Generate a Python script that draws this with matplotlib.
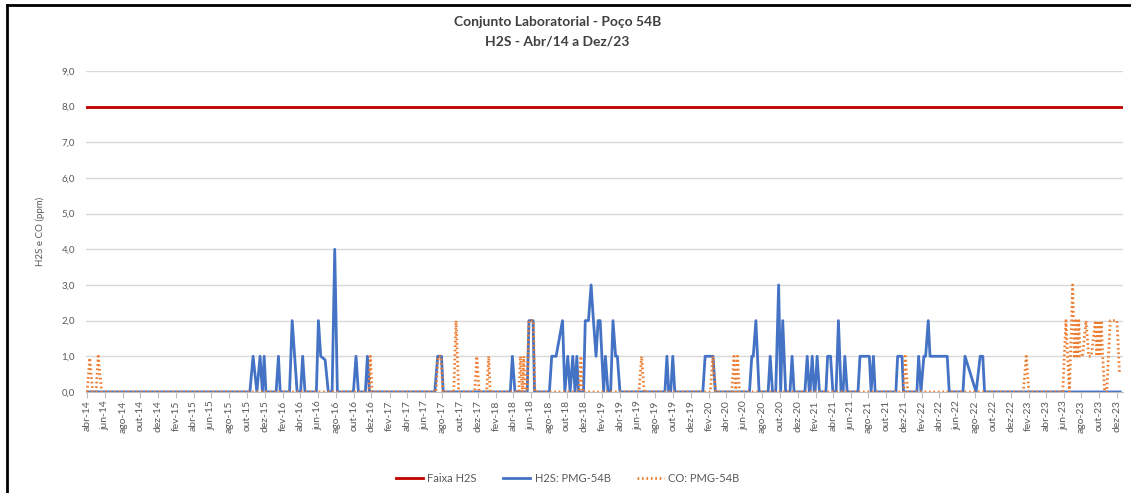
import pandas as pd
import matplotlib
matplotlib.use('Agg')
import matplotlib.pyplot as plt
import matplotlib.dates as mdates
from matplotlib.lines import Line2D

plt.rcParams['font.family'] = ['Lato', 'DejaVu Sans']

LIMITE_H2S = 8.0

h2s_datas = [
    '2014-04-01', '2015-10-11', '2015-10-22', '2015-11-04', '2015-11-15', '2015-11-23',
    '2015-11-29', '2015-12-05', '2016-01-09', '2016-01-17', '2016-01-23', '2016-02-24',
    '2016-03-04', '2016-03-21', '2016-04-02', '2016-04-09', '2016-04-17', '2016-05-26',
    '2016-06-02', '2016-06-10', '2016-06-25', '2016-07-06', '2016-07-19', '2016-07-28',
    '2016-08-06', '2016-09-30', '2016-10-09', '2016-10-17', '2016-11-10', '2016-11-17',
    '2016-11-24', '2017-07-06', '2017-07-16', '2017-07-29', '2017-08-04', '2018-03-22',
    '2018-03-29', '2018-04-07', '2018-05-19', '2018-05-25', '2018-06-08', '2018-06-13',
    '2018-08-03', '2018-08-11', '2018-08-26', '2018-09-17', '2018-09-25', '2018-10-05',
    '2018-10-13', '2018-10-22', '2018-10-30', '2018-11-05', '2018-11-11', '2018-11-28',
    '2018-12-04', '2018-12-15', '2018-12-24', '2019-01-01', '2019-01-10', '2019-01-17',
    '2019-01-24', '2019-02-05', '2019-02-11', '2019-02-20', '2019-03-01', '2019-03-09',
    '2019-03-18', '2019-03-24', '2019-04-02', '2019-09-03', '2019-09-10', '2019-09-16',
    '2019-09-23', '2019-09-30', '2019-10-07', '2020-01-11', '2020-01-19', '2020-02-15',
    '2020-02-23', '2020-06-19', '2020-06-27', '2020-07-02', '2020-07-11', '2020-07-22',
    '2020-08-22', '2020-08-29', '2020-09-06', '2020-09-17', '2020-09-27', '2020-10-04',
    '2020-10-11', '2020-10-21', '2020-11-05', '2020-11-12', '2020-11-19', '2020-12-26',
    '2021-01-03', '2021-01-10', '2021-01-13', '2021-01-20', '2021-01-27', '2021-01-30',
    '2021-02-06', '2021-02-14', '2021-03-08', '2021-03-14', '2021-03-24', '2021-04-01',
    '2021-04-12', '2021-04-20', '2021-04-29', '2021-05-06', '2021-05-12', '2021-05-20',
    '2021-06-26', '2021-07-03', '2021-08-04', '2021-08-10', '2021-08-18', '2021-08-24',
    '2021-11-03', '2021-11-09', '2021-11-24', '2021-11-29', '2022-01-14', '2022-01-20',
    '2022-01-28', '2022-02-07', '2022-02-13', '2022-02-22', '2022-02-28', '2022-04-28',
    '2022-05-05', '2022-06-21', '2022-06-28', '2022-08-05', '2022-08-19', '2022-08-28',
    '2022-09-03', '2023-12-12',
]
h2s_valores = [
    0, 0, 1, 0, 1, 0,
    1, 0, 0, 1, 0, 0,
    2, 0, 0, 1, 0, 0,
    2, 1, 0.9, 0, 0, 4,
    0, 0, 1, 0, 0, 1,
    0, 0, 1, 1, 0, 0,
    1, 0, 0, 2, 2, 0,
    0, 1, 1, 2, 0, 1,
    0, 1, 0, 1, 0, 0,
    2, 2, 3, 2, 1, 2,
    2, 0, 1, 0, 0, 2,
    1, 1, 0, 0, 1, 0,
    0, 1, 0, 0, 1, 1,
    0, 0, 1, 1, 2, 0,
    0, 1, 0, 0, 3, 0,
    2, 0, 0, 1, 0, 0,
    1, 0, 0, 1, 0, 0,
    1, 0, 0, 1, 1, 0,
    0, 2, 0, 0, 1, 0,
    0, 1, 1, 0, 1, 0,
    0, 1, 1, 0, 0, 1,
    0, 1, 1, 2, 1, 1,
    0, 0, 1, 0, 1, 1,
    0, 0,
]

co_datas = [
    '2014-04-01', '2014-04-10', '2014-04-20', '2014-05-02', '2014-05-09', '2014-05-21',
    '2016-11-22', '2016-11-27', '2016-12-03', '2017-07-10', '2017-07-17', '2017-07-27',
    '2017-08-03', '2017-09-09', '2017-09-17', '2017-09-26', '2017-11-20', '2017-11-27',
    '2017-12-05', '2017-12-31', '2018-01-07', '2018-01-12', '2018-04-20', '2018-04-26',
    '2018-05-02', '2018-05-07', '2018-05-12', '2018-05-19', '2018-05-24', '2018-06-09',
    '2018-06-14', '2018-11-13', '2018-11-19', '2018-11-24', '2019-06-06', '2019-06-15',
    '2019-06-24', '2020-02-06', '2020-02-14', '2020-02-24', '2020-04-19', '2020-04-27',
    '2020-05-03', '2020-05-09', '2020-05-16', '2021-11-30', '2021-12-05', '2021-12-14',
    '2023-01-14', '2023-01-24', '2023-02-02', '2023-05-29', '2023-06-09', '2023-06-21',
    '2023-07-02', '2023-07-08', '2023-07-13', '2023-07-18', '2023-07-23', '2023-07-28',
    '2023-08-05', '2023-08-17', '2023-08-26', '2023-09-04', '2023-09-18', '2023-09-23',
    '2023-09-28', '2023-10-03', '2023-10-08', '2023-10-13', '2023-10-20', '2023-10-27',
    '2023-11-08', '2023-12-01', '2023-12-10',
]
co_valores = [
    0, 0.95, 0, 0, 1, 0,
    0, 1, 0, 0, 1, 1,
    0, 0, 2, 0, 0, 1,
    0, 0, 1, 0, 0, 1,
    0, 1, 0, 0, 2, 2,
    0, 0, 1, 0, 0, 1,
    0, 0, 1, 0, 0, 1,
    0, 1, 0, 0, 1, 0,
    0, 1, 0, 0, 2, 0,
    3, 1, 2, 1, 2, 1,
    1, 2, 1, 1, 2, 1,
    2, 1, 2, 1, 0, 0,
    2, 2, 0.5,
]

MESES = ['jan', 'fev', 'mar', 'abr', 'mai', 'jun', 'jul', 'ago', 'set', 'out', 'nov', 'dez']

h2s = pd.Series(h2s_valores, index=pd.to_datetime(h2s_datas))
co = pd.Series(co_valores, index=pd.to_datetime(co_datas))

fig = plt.figure(figsize=(11.31, 4.93), dpi=100)
ax = fig.add_axes([0.076, 0.205, 0.917, 0.651])

ax.axhline(LIMITE_H2S, color='#C00000', linewidth=2.0, label='Faixa H2S', zorder=3)
ax.plot(h2s.index, h2s.values, color='#4472C4', linewidth=2.0, label='H2S: PMG-54B', zorder=2)
ax.plot(co.index, co.values, color='#ED7D31', linewidth=2.0, linestyle=(0, (0.6, 1.0)),
        label='CO: PMG-54B', zorder=2.5)

ax.set_xlim(pd.Timestamp('2014-03-28'), pd.Timestamp('2023-12-22'))
ax.set_ylim(0, 9)
ax.set_yticks(range(0, 10))
ax.set_yticklabels([f'{v:.1f}'.replace('.', ',') for v in range(0, 10)])

ticks = pd.date_range('2014-04-01', '2023-12-01', freq='2MS')
ax.set_xticks(mdates.date2num(ticks))
ax.set_xticklabels([f'{MESES[t.month - 1]}-{t.strftime("%y")}' for t in ticks], rotation=90)

ax.grid(axis='y', color='#d9d9d9', linewidth=1.0)
ax.set_axisbelow(True)
for lado in ['top', 'right', 'left']:
    ax.spines[lado].set_visible(False)
ax.spines['bottom'].set_color('#bfbfbf')
ax.tick_params(axis='y', length=0, labelsize=7, colors='#595959', pad=8)
ax.tick_params(axis='x', length=4, color='#bfbfbf', labelsize=7.5, labelcolor='#595959', pad=2)

ax.set_ylabel('H2S e CO (ppm)', fontsize=7, color='#595959', labelpad=12)

fig.text(0.493, 0.955, 'Conjunto Laboratorial - Poço 54B', ha='center', va='center',
         fontsize=10, fontweight='bold', color='#404040')
fig.text(0.493, 0.915, 'H2S - Abr/14 a Dez/23', ha='center', va='center',
         fontsize=10, fontweight='bold', color='#404040')

fig.legend(loc='center', bbox_to_anchor=(0.502, 0.03), ncol=3, frameon=False,
           fontsize=8, handlelength=2.4, handletextpad=0.4, columnspacing=2.4,
           labelcolor='#595959')

# moldura preta (esquerda e topo)
fig.add_artist(Line2D([0.0062, 0.0062], [0.0, 0.989], color='black', linewidth=2.0))
fig.add_artist(Line2D([0.0062, 1.0], [0.989, 0.989], color='black', linewidth=2.0))

fig.savefig('out.png', dpi=100)
